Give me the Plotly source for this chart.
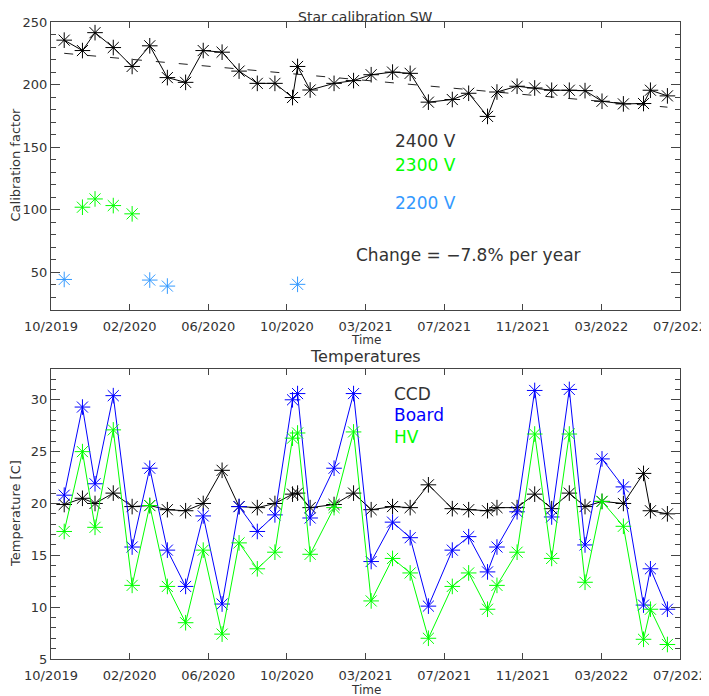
import plotly.graph_objects as go

# observation dates (shared by both panels)
dates = [
    "2019-11-10", "2019-12-09", "2019-12-29", "2020-01-27", "2020-02-26",
    "2020-03-25", "2020-04-22", "2020-05-21", "2020-06-18", "2020-07-18",
    "2020-08-14", "2020-09-12", "2020-10-10", "2020-11-07", "2020-11-15",
    "2020-12-05", "2021-01-12", "2021-02-12", "2021-03-12", "2021-04-15",
    "2021-05-13", "2021-06-11", "2021-07-19", "2021-08-14", "2021-09-13",
    "2021-09-28", "2021-10-30", "2021-11-27", "2021-12-24", "2022-01-21",
    "2022-02-15", "2022-03-14", "2022-04-17", "2022-05-19", "2022-05-30",
    "2022-06-26",
]

# star calibration factor
calib_2400 = [
    235.5, 227.2, 241.5, 229.6, 214.5, 231.0, 205.6, 201.8, 227.2, 225.9,
    210.8, 201.0, 201.0, 189.7, 214.5, 195.7, 201.0, 203.2, 207.9, 210.0,
    209.0, 186.0, 188.1, 193.1, 174.6, 194.1, 198.7, 197.3, 195.5, 195.5,
    195.2, 186.7, 184.6, 184.9, 195.5, 191.0,
]
dates_2300 = ["2019-12-09", "2019-12-29", "2020-01-27", "2020-02-26"]
calib_2300 = [102.1, 108.7, 103.4, 96.8]
dates_2200 = ["2019-11-10", "2020-03-25", "2020-04-22", "2020-11-15"]
calib_2200 = [44.4, 43.9, 39.1, 40.5]

# trend line (dashed)
trend_dates = ["2019-11-10", "2020-06-18", "2020-11-15", "2021-03-12", "2021-09-28", "2022-06-26"]
trend_values = [225.0, 215.0, 208.0, 203.0, 194.0, 182.0]

# temperatures
temp_ccd = [
    19.9, 20.5, 20.0, 21.0, 19.7, 19.8, 19.4, 19.3, 20.0, 23.2,
    19.7, 19.6, 20.0, 20.9, 21.0, 19.6, 19.9, 21.0, 19.4, 19.7,
    19.6, 21.8, 19.5, 19.4, 19.3, 19.6, 19.6, 20.9, 19.5, 21.0,
    19.7, 20.2, 20.0, 22.9, 19.3, 19.0,
]
temp_board = [
    20.8, 29.3, 21.9, 30.4, 15.8, 23.4, 15.5, 12.0, 18.8, 10.3,
    19.7, 17.3, 18.9, 30.0, 30.6, 18.6, 23.4, 30.6, 14.4, 18.2,
    16.7, 10.1, 15.5, 16.8, 13.4, 15.8, 19.2, 30.9, 18.7, 31.0,
    16.0, 24.3, 21.6, 10.2, 13.7, 9.8,
]
temp_hv = [
    17.3, 25.0, 17.7, 27.1, 12.1, 19.8, 12.0, 8.5, 15.5, 7.4,
    16.2, 13.7, 15.3, 26.3, 26.8, 15.1, 19.6, 26.9, 10.6, 14.7,
    13.3, 7.0, 12.0, 13.3, 9.8, 12.1, 15.3, 26.7, 14.7, 26.7,
    12.4, 20.2, 17.8, 6.9, 9.8, 6.4,
]

GREEN = "#00ff00"
BLUE = "#0000ff"
LBLUE = "#3399ff"
TXT = "#333333"
FONT = "DejaVu Sans"

star = dict(symbol="asterisk-open", size=13, line=dict(width=1))

fig = go.Figure()

fig.add_trace(go.Scatter(x=trend_dates, y=trend_values, mode="lines",
                         line=dict(color="#222222", width=1, dash="9px,14px"),
                         xaxis="x", yaxis="y", showlegend=False))
fig.add_trace(go.Scatter(x=dates, y=calib_2400, mode="lines+markers",
                         line=dict(color="black", width=1),
                         marker=dict(star, color="black", line_color="black"),
                         xaxis="x", yaxis="y", showlegend=False))
fig.add_trace(go.Scatter(x=dates_2300, y=calib_2300, mode="markers",
                         marker=dict(star, color=GREEN, line_color=GREEN),
                         xaxis="x", yaxis="y", showlegend=False))
fig.add_trace(go.Scatter(x=dates_2200, y=calib_2200, mode="markers",
                         marker=dict(star, color=LBLUE, line_color=LBLUE),
                         xaxis="x", yaxis="y", showlegend=False))

for vals, col in [(temp_ccd, "black"), (temp_board, BLUE), (temp_hv, GREEN)]:
    fig.add_trace(go.Scatter(x=dates, y=vals, mode="lines+markers",
                             line=dict(color=col, width=1),
                             marker=dict(star, color=col, line_color=col),
                             xaxis="x2", yaxis="y2", showlegend=False))

xax = dict(
    type="date",
    range=["2019-10-20", "2022-07-16"],
    tick0="2019-10-20",
    dtick=125 * 86400000,
    tickformat="%m/%Y",
    ticks="inside", ticklen=6, tickcolor="#444",
    ticklabelstandoff=4,
    showline=True, linecolor="#444", linewidth=1, mirror="ticks",
    showgrid=False, zeroline=False,
    tickfont=dict(family=FONT, size=13, color=TXT),
    automargin=False,
)
yax = dict(
    ticks="inside", ticklen=9, tickcolor="#444",
    showline=True, linecolor="#444", linewidth=1, mirror="ticks",
    showgrid=False, zeroline=False,
    tickfont=dict(family=FONT, size=13, color=TXT),
    automargin=False,
)

# the page body adds an 8px offset, so the figure is 8px smaller on each side
fig.update_layout(
    width=701, height=688,
    margin=dict(l=43, r=29, t=11, b=37),
    paper_bgcolor="white", plot_bgcolor="white",
    font=dict(family=FONT, size=13, color=TXT),
    xaxis=dict(xax, domain=[0, 1], anchor="y"),
    yaxis=dict(yax, domain=[0.5453, 0.9953], anchor="x", range=[20, 250],
               tick0=0, dtick=50,
               minor=dict(dtick=10, ticks="inside", ticklen=5, tickcolor="#444")),
    xaxis2=dict(xax, domain=[0, 1], anchor="y2"),
    yaxis2=dict(yax, domain=[0, 0.4536], anchor="x2", range=[5, 33],
                tick0=0, dtick=5,
                minor=dict(dtick=1, ticks="inside", ticklen=5, tickcolor="#444")),
)

notes = [
    ("Star calibration SW", 0.5, 1.0039, "center", "middle", TXT, 14, 0),
    ("Temperatures", 0.5, 0.4727, "center", "middle", TXT, 16, 0),
    ("Time", 0.5, 0.4977, "center", "middle", TXT, 12, 0),
    ("Time", 0.5, -0.0477, "center", "middle", TXT, 12, 0),
    ("Calibration factor", -0.0572, 0.7727, "center", "middle", TXT, 13, -90),
    ("Temperature [C]", -0.0556, 0.2268, "center", "middle", TXT, 13, -90),
    ("2400 V", 0.5432, 0.8098, "left", "middle", TXT, 17, 0),
    ("2300 V", 0.5432, 0.7719, "left", "middle", GREEN, 17, 0),
    ("2200 V", 0.5432, 0.7120, "left", "middle", LBLUE, 17, 0),
    ("Change = \u22127.8% per year", 0.4817, 0.6313, "left", "middle", TXT, 17, 0),
    ("CCD", 0.5424, 0.4140, "left", "middle", TXT, 17, 0),
    ("Board", 0.5424, 0.3813, "left", "middle", BLUE, 17, 0),
    ("HV", 0.5424, 0.3470, "left", "middle", GREEN, 17, 0),
]
for text, x, y, xa, ya, col, size, angle in notes:
    fig.add_annotation(text=text, x=x, y=y, xref="paper", yref="paper",
                       xanchor=xa, yanchor=ya, showarrow=False,
                       textangle=angle,
                       font=dict(family=FONT, size=size, color=col))

fig.write_html("out.html")
